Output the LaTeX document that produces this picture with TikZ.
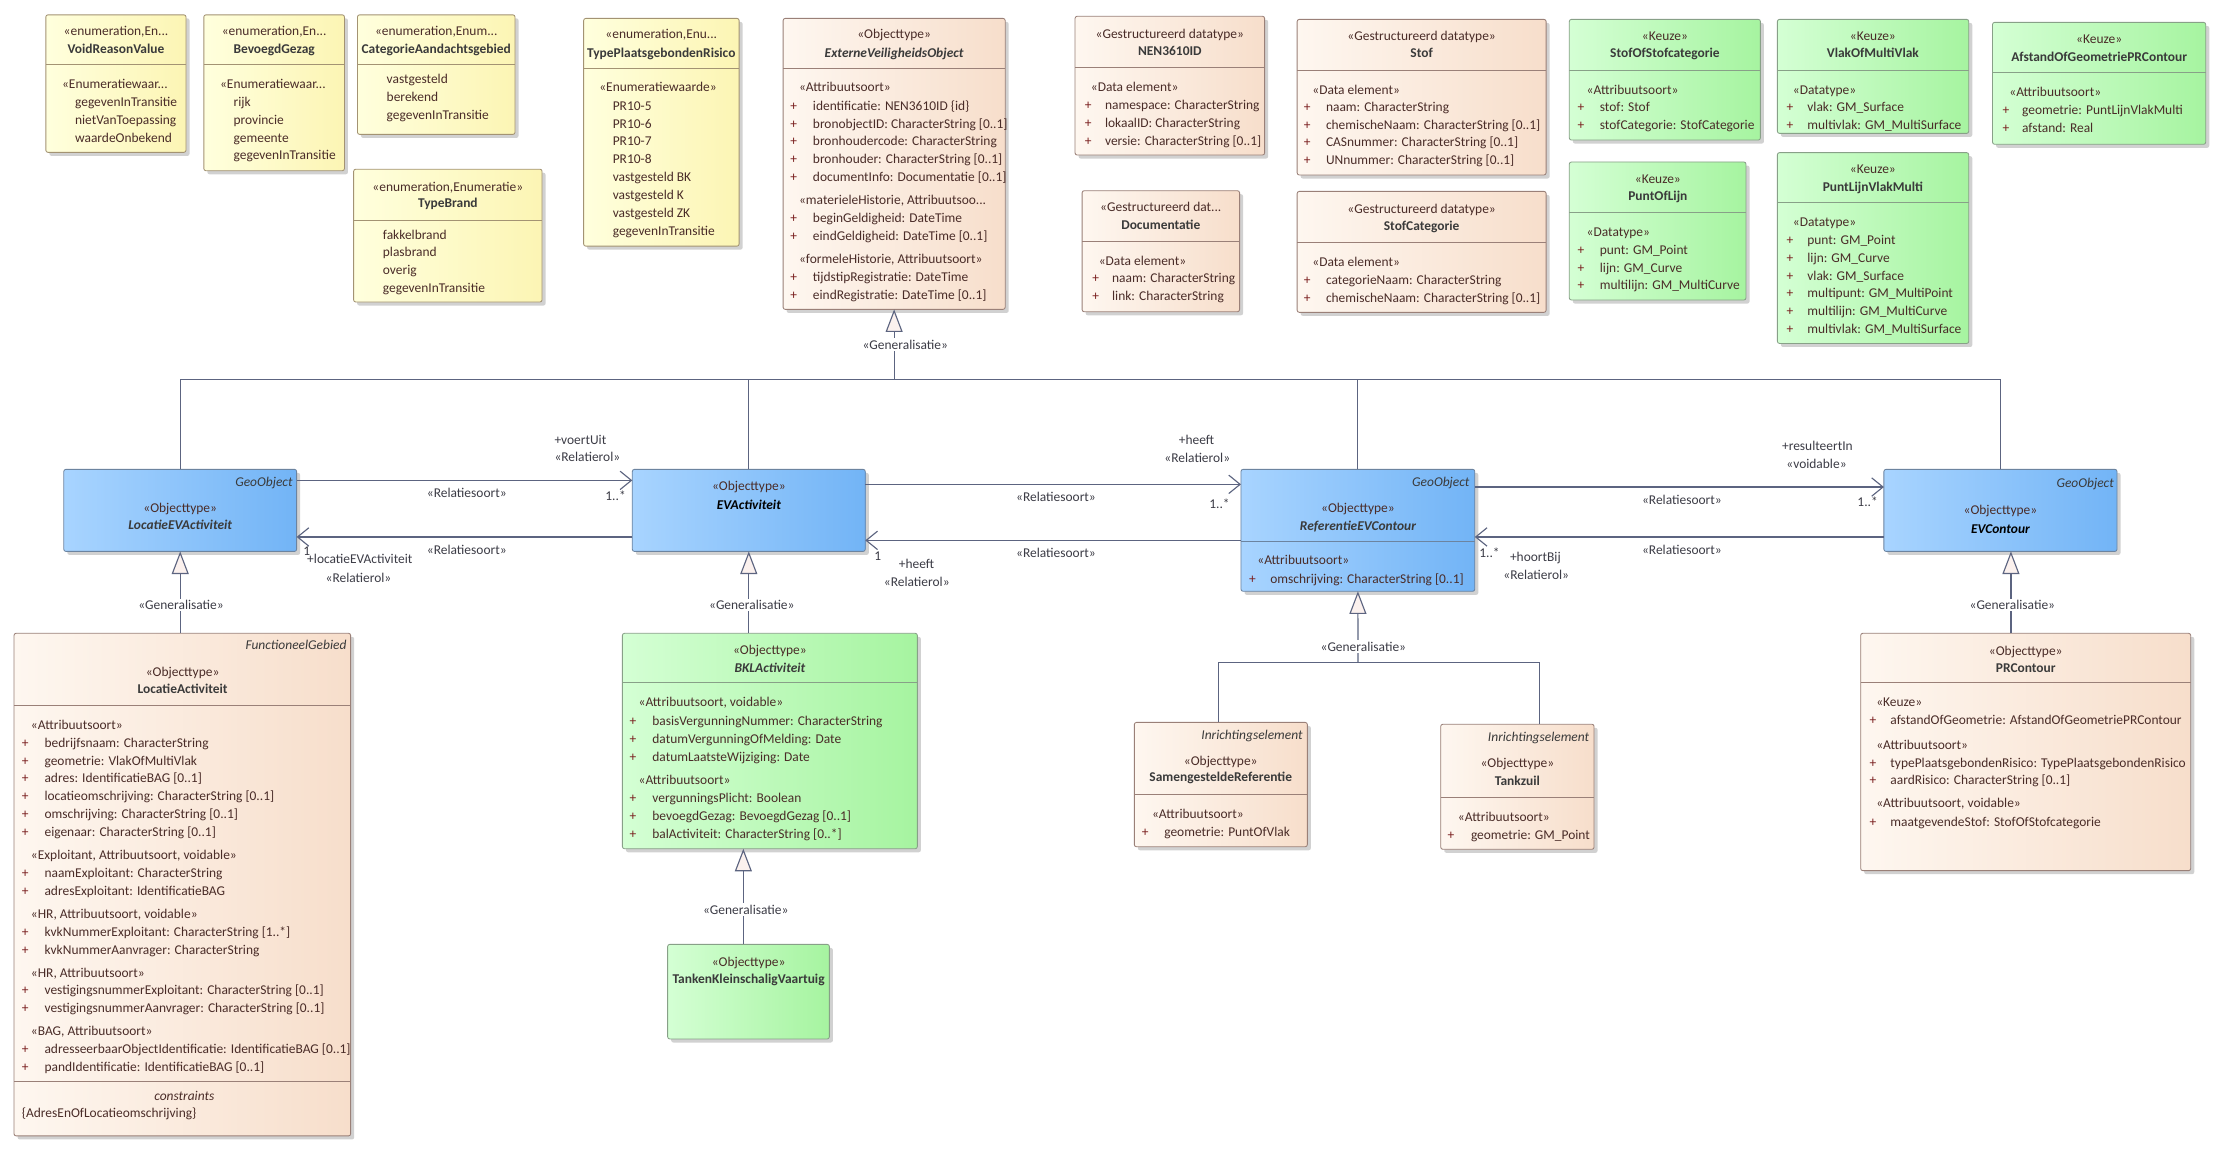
\documentclass[tikz,border=0pt]{standalone}
\usepackage{fontspec}
\setmainfont{Carlito}
\usetikzlibrary{arrows.meta,shadows,calc}
\newcommand{\fs}{\fontsize{9.5}{12.6}\selectfont}
\definecolor{lc}{HTML}{5C6480}
\definecolor{enumL}{HTML}{FFFFDD}
\definecolor{enumR}{HTML}{FCF5B4}
\definecolor{enumD}{HTML}{A39373}
\definecolor{peachL}{HTML}{FEF7F0}
\definecolor{peachR}{HTML}{F7DECB}
\definecolor{peachD}{HTML}{9A8078}
\definecolor{greenL}{HTML}{D4FFD4}
\definecolor{greenR}{HTML}{A6F4A0}
\definecolor{greenD}{HTML}{88A088}
\definecolor{blueL}{HTML}{A8D4FF}
\definecolor{blueR}{HTML}{72B4F6}
\definecolor{blueD}{HTML}{6C84A0}
\definecolor{txt}{HTML}{4A2C28}
\definecolor{plusc}{HTML}{7A1F1F}
\definecolor{namec}{HTML}{3A3A3A}
\definecolor{lbl}{HTML}{3C3C46}
\definecolor{genfill}{HTML}{FBF1EE}
\tikzset{
  box/.style={rectangle, rounded corners=1.5pt, inner sep=0pt, outer sep=0pt, line width=0.6pt,
    drop shadow={shadow xshift=2.5pt, shadow yshift=-2.5pt, fill=black, opacity=0.18}},
  enumbox/.style={box, draw=enumD, left color=enumL, right color=enumR},
  peachbox/.style={box, draw=peachD, left color=peachL, right color=peachR},
  greenbox/.style={box, draw=greenD, left color=greenL, right color=greenR},
  bluebox/.style={box, draw=blueD, left color=blueL, right color=blueR},
  stx/.style={anchor=base, inner sep=0pt, text=txt, font=\fs},
  nmx/.style={anchor=base, inner sep=0pt, text=namec, font=\fs\bfseries},
  nmix/.style={anchor=base, inner sep=0pt, text=namec, font=\fs\bfseries\itshape},
  hdx/.style={anchor=base west, inner sep=0pt, text=txt, font=\fs},
  itx/.style={anchor=base west, inner sep=0pt, text=txt, font=\fs},
  plx/.style={anchor=base west, inner sep=0pt, text=plusc, font=\fs},
  geox/.style={anchor=base east, inner sep=0pt, text=namec, font=\fs\itshape},
  lblx/.style={anchor=base, inner sep=0pt, text=lbl, font=\fs},
  lblw/.style={lblx, anchor=base west},
  genl/.style={lblx, fill=white, inner sep=1.2pt},
  conn/.style={draw=lc, line width=0.8pt},
  gen/.style={conn, -{Triangle[length=16pt, width=12pt, fill=genfill]}},
  assoc/.style={conn, -{Straight Barb[length=8pt, width=13pt]}},
}
\newcommand{\umlbox}[6]{\node[#2, anchor=north west, minimum width={(#5-#3)*1pt}, minimum height={(#6-#4)*1pt}] (#1) at (#3,#4) {};}
\newcommand{\divl}[4]{\draw[draw=#4, line width=0.6pt] (#1,#3) -- (#2,#3);}
\newcommand{\attrs}[5]{%
  \foreach \itm [count=\i] in {#5}{%
    \node[plx] (#1p\i) at (#2,{#4+(\i-1)*12.6}) {+};
    \node[itx] (#1\i) at (#3,{#4+(\i-1)*12.6}) {\itm};
  }}
\newcommand{\evals}[4]{%
  \foreach \itm [count=\i] in {#4}{%
    \node[itx] (#1\i) at (#2,{#3+(\i-1)*12.6}) {\itm};
  }}
\begin{document}
\begin{tikzpicture}[x=1pt,y=-1pt]
\fill[white] (0,0) rectangle (1568,814);
\useasboundingbox (0,0) rectangle (1568,814);

% ---------- enumerations ----------
\umlbox{void}{enumbox}{32.4}{10.5}{131.5}{107.7}
\divl{32.4}{131.5}{45.2}{enumD}
\node[stx] (void-s) at (82,25.2) {«enumeration,En...};
\node[nmx] (void-n) at (82,37.5) {VoidReasonValue};
\node[hdx] (void-h) at (43.7,62.7) {«Enumeratiewaar...};
\evals{void-i}{52.9}{75.2}{{gegevenInTransitie},{nietVanToepassing},{waardeOnbekend}}

\umlbox{bev}{enumbox}{144.1}{10.5}{243.5}{120.7}
\divl{144.1}{243.5}{45.2}{enumD}
\node[stx] (bev-s) at (193.8,25.2) {«enumeration,En...};
\node[nmx] (bev-n) at (193.8,37.5) {BevoegdGezag};
\node[hdx] (bev-h) at (155.4,62.7) {«Enumeratiewaar...};
\evals{bev-i}{165}{75.2}{{rijk},{provincie},{gemeente},{gegevenInTransitie}}

\umlbox{cat}{enumbox}{252.7}{10.5}{364.1}{95}
\divl{252.7}{364.1}{45.5}{enumD}
\node[stx] (cat-s) at (308.4,25.2) {«enumeration,Enum...};
\node[nmx] (cat-n) at (308.4,37.5) {CategorieAandachtsgebied};
\evals{cat-i}{273.2}{59}{{vastgesteld},{berekend},{gegevenInTransitie}}

\umlbox{brand}{enumbox}{250}{119.6}{383.2}{213.5}
\divl{250}{383.2}{155.8}{enumD}
\node[stx] (brand-s) at (316.6,135.5) {«enumeration,Enumeratie»};
\node[nmx] (brand-n) at (316.6,147) {TypeBrand};
\evals{brand-i}{270.5}{169}{{fakkelbrand},{plasbrand},{overig},{gegevenInTransitie}}

\umlbox{tpr}{enumbox}{412.6}{13}{522.5}{174}
\divl{412.6}{522.5}{48.5}{enumD}
\node[stx] (tpr-s) at (467.5,27.5) {«enumeration,Enu...};
\node[nmx] (tpr-n) at (467.5,40.5) {TypePlaatsgebondenRisico};
\node[hdx] (tpr-h) at (423.5,65) {«Enumeratiewaarde»};
\evals{tpr-i}{433}{78}{{PR10-5},{PR10-6},{PR10-7},{PR10-8},{vastgesteld BK},{vastgesteld K},{vastgesteld ZK},{gegevenInTransitie}}

% ---------- ExterneVeiligheidsObject ----------
\umlbox{evo}{peachbox}{553.6}{13}{710.6}{218.7}
\divl{553.6}{710.6}{48.3}{peachD}
\node[stx] (evo-s) at (632.1,27.5) {«Objecttype»};
\node[nmix] (evo-n) at (632.1,40.5) {ExterneVeiligheidsObject};
\node[hdx] (evo-h1) at (564.7,65) {«Attribuutsoort»};
\attrs{evo-a}{558.5}{574.5}{78}{{identificatie: NEN3610ID \{id\}},{bronobjectID: CharacterString [0..1]},{bronhoudercode: CharacterString},{bronhouder: CharacterString [0..1]},{documentInfo: Documentatie [0..1]}}
\node[hdx] (evo-h2) at (564.7,144.7) {«materieleHistorie, Attribuutsoo...};
\attrs{evo-b}{558.5}{574.5}{157.2}{{beginGeldigheid: DateTime},{eindGeldigheid: DateTime [0..1]}}
\node[hdx] (evo-h3) at (564.7,186.3) {«formeleHistorie, Attribuutsoort»};
\attrs{evo-c}{558.5}{574.5}{199}{{tijdstipRegistratie: DateTime},{eindRegistratie: DateTime [0..1]}}

% ---------- datatypes ----------
\umlbox{nen}{peachbox}{760}{11.5}{894}{109.6}
\divl{760}{894}{47.6}{peachD}
\node[stx] (nen-s) at (827,27) {«Gestructureerd datatype»};
\node[nmx] (nen-n) at (827,39.5) {NEN3610ID};
\node[hdx] (nen-h) at (771,64.6) {«Data element»};
\attrs{nen-a}{766.8}{781}{77.6}{{namespace: CharacterString},{lokaalID: CharacterString},{versie: CharacterString [0..1]}}

\umlbox{doc}{peachbox}{765}{134.8}{876.3}{220.4}
\divl{765}{876.3}{170.6}{peachD}
\node[stx] (doc-s) at (820.6,149.5) {«Gestructureerd dat...};
\node[nmx] (doc-n) at (820.6,162) {Documentatie};
\node[hdx] (doc-h) at (776.6,187.4) {«Data element»};
\attrs{doc-a}{772}{786}{199.6}{{naam: CharacterString},{link: CharacterString}}

\umlbox{stof}{peachbox}{917}{13.7}{1093}{123.7}
\divl{917}{1093}{49.5}{peachD}
\node[stx] (stof-s) at (1005,28.3) {«Gestructureerd datatype»};
\node[nmx] (stof-n) at (1005,41) {Stof};
\node[hdx] (stof-h) at (927.6,66.5) {«Data element»};
\attrs{stof-a}{921.6}{937.2}{78.7}{{naam: CharacterString},{chemischeNaam: CharacterString [0..1]},{CASnummer: CharacterString [0..1]},{UNnummer: CharacterString [0..1]}}

\umlbox{stofcat}{peachbox}{917}{135.3}{1093}{220.8}
\divl{917}{1093}{171.3}{peachD}
\node[stx] (stofcat-s) at (1005,151) {«Gestructureerd datatype»};
\node[nmx] (stofcat-n) at (1005,163) {StofCategorie};
\node[hdx] (stofcat-h) at (927.6,188.3) {«Data element»};
\attrs{stofcat-a}{921.6}{937.2}{201.3}{{categorieNaam: CharacterString},{chemischeNaam: CharacterString [0..1]}}

% ---------- keuze ----------
\umlbox{sosc}{greenbox}{1109.4}{13.7}{1244.5}{99}
\divl{1109.4}{1244.5}{49.5}{greenD}
\node[stx] (sosc-s) at (1177,28.3) {«Keuze»};
\node[nmx] (sosc-n) at (1177,41) {StofOfStofcategorie};
\node[hdx] (sosc-h) at (1121.5,66.5) {«Attribuutsoort»};
\attrs{sosc-a}{1115}{1130.8}{78.7}{{stof: Stof},{stofCategorie: StofCategorie}}

\umlbox{vomv}{greenbox}{1256.5}{13.7}{1391.8}{94.3}
\divl{1256.5}{1391.8}{49.5}{greenD}
\node[stx] (vomv-s) at (1324,28.3) {«Keuze»};
\node[nmx] (vomv-n) at (1324,41) {VlakOfMultiVlak};
\node[hdx] (vomv-h) at (1267.3,66.5) {«Datatype»};
\attrs{vomv-a}{1262.8}{1277.5}{78.7}{{vlak: GM\_Surface},{multivlak: GM\_MultiSurface}}

\umlbox{aog}{greenbox}{1408.6}{15.8}{1559.3}{102}
\divl{1408.6}{1559.3}{50.9}{greenD}
\node[stx] (aog-s) at (1484,30.6) {«Keuze»};
\node[nmx] (aog-n) at (1484,43.4) {AfstandOfGeometriePRContour};
\node[hdx] (aog-h) at (1420.3,67.9) {«Attribuutsoort»};
\attrs{aog-a}{1415.5}{1429.3}{80.8}{{geometrie: PuntLijnVlakMulti},{afstand: Real}}

\umlbox{pol}{greenbox}{1109.4}{114.5}{1234.3}{212.1}
\divl{1109.4}{1234.3}{149.9}{greenD}
\node[stx] (pol-s) at (1172,129.6) {«Keuze»};
\node[nmx] (pol-n) at (1172,141.7) {PuntOfLijn};
\node[hdx] (pol-h) at (1121.5,166.9) {«Datatype»};
\attrs{pol-a}{1115}{1130.8}{179.8}{{punt: GM\_Point},{lijn: GM\_Curve},{multilijn: GM\_MultiCurve}}

\umlbox{plvm}{greenbox}{1256.5}{107.9}{1391.8}{242.8}
\divl{1256.5}{1391.8}{143}{greenD}
\node[stx] (plvm-s) at (1324,122.6) {«Keuze»};
\node[nmx] (plvm-n) at (1324,135.3) {PuntLijnVlakMulti};
\node[hdx] (plvm-h) at (1267.3,159.8) {«Datatype»};
\attrs{plvm-a}{1262.8}{1277.5}{172.8}{{punt: GM\_Point},{lijn: GM\_Curve},{vlak: GM\_Surface},{multipunt: GM\_MultiPoint},{multilijn: GM\_MultiCurve},{multivlak: GM\_MultiSurface}}

% ---------- middle row ----------
\umlbox{locev}{bluebox}{45.1}{331.8}{209.7}{389.8}
\node[geox] (locev-g) at (207,344) {GeoObject};
\node[stx] (locev-s) at (127.4,362) {«Objecttype»};
\node[nmix] (locev-n) at (127.4,374.5) {LocatieEVActiviteit};

\umlbox{evact}{bluebox}{447}{331.8}{611.7}{389.8}
\node[stx] (evact-s) at (529.4,346.5) {«Objecttype»};
\node[nmix, text=black] (evact-n) at (529.4,360.3) {EVActiviteit};

\umlbox{refev}{bluebox}{877.3}{331.8}{1042.6}{418}
\divl{877.3}{1042.6}{382.7}{blueD}
\node[geox] (refev-g) at (1039,344) {GeoObject};
\node[stx] (refev-s) at (960,362) {«Objecttype»};
\node[nmix] (refev-n) at (960,375) {ReferentieEVContour};
\node[hdx] (refev-h) at (888.7,399.4) {«Attribuutsoort»};
\attrs{refev-a}{882.8}{897.8}{412.4}{{omschrijving: CharacterString [0..1]}}

\umlbox{evcont}{bluebox}{1331.8}{331.8}{1496.6}{389.8}
\node[geox] (evcont-g) at (1494.5,344.6) {GeoObject};
\node[stx] (evcont-s) at (1414.2,363.4) {«Objecttype»};
\node[nmix, text=black] (evcont-n) at (1414.2,376.8) {EVContour};

% ---------- bottom row ----------
\umlbox{locact}{peachbox}{9.9}{447.7}{247.9}{803}
\divl{9.9}{247.9}{498.6}{peachD}
\divl{9.9}{247.9}{764.7}{peachD}
\node[geox] (locact-g) at (245.1,459.5) {FunctioneelGebied};
\node[stx] (locact-s) at (129.1,478) {«Objecttype»};
\node[nmx] (locact-n) at (129.1,490.6) {LocatieActiviteit};
\node[hdx] (locact-h1) at (21.7,515.6) {«Attribuutsoort»};
\attrs{locact-a}{15.3}{31.3}{528.3}{{bedrijfsnaam: CharacterString},{geometrie: VlakOfMultiVlak},{adres: IdentificatieBAG [0..1]},{locatieomschrijving: CharacterString [0..1]},{omschrijving: CharacterString [0..1]},{eigenaar: CharacterString [0..1]}}
\node[hdx] (locact-h2) at (21.7,607.3) {«Exploitant, Attribuutsoort, voidable»};
\attrs{locact-b}{15.3}{31.3}{620.3}{{naamExploitant: CharacterString},{adresExploitant: IdentificatieBAG}}
\node[hdx] (locact-h3) at (21.7,649) {«HR, Attribuutsoort, voidable»};
\attrs{locact-c}{15.3}{31.3}{662}{{kvkNummerExploitant: CharacterString [1..*]},{kvkNummerAanvrager: CharacterString}}
\node[hdx] (locact-h4) at (21.7,690.7) {«HR, Attribuutsoort»};
\attrs{locact-d}{15.3}{31.3}{703}{{vestigingsnummerExploitant: CharacterString [0..1]},{vestigingsnummerAanvrager: CharacterString [0..1]}}
\node[hdx] (locact-h5) at (21.7,731.7) {«BAG, Attribuutsoort»};
\attrs{locact-e}{15.3}{31.3}{744.7}{{adresseerbaarObjectIdentificatie: IdentificatieBAG [0..1]},{pandIdentificatie: IdentificatieBAG [0..1]}}
\node[stx, font=\fs\itshape] (locact-c1) at (130.3,778) {constraints};
\node[itx] (locact-c2) at (15.3,789.7) {\{AdresEnOfLocatieomschrijving\}};

\umlbox{bkl}{greenbox}{440}{447.7}{648.5}{600}
\divl{440}{648.5}{482.6}{greenD}
\node[stx] (bkl-s) at (544.3,462.8) {«Objecttype»};
\node[nmix] (bkl-n) at (544.3,475.1) {BKLActiviteit};
\node[hdx] (bkl-h1) at (451.3,499.6) {«Attribuutsoort, voidable»};
\attrs{bkl-a}{444.9}{461}{512.8}{{basisVergunningNummer: CharacterString},{datumVergunningOfMelding: Date},{datumLaatsteWijziging: Date}}
\node[hdx] (bkl-h2) at (451.3,554.7) {«Attribuutsoort»};
\attrs{bkl-b}{444.9}{461}{567.5}{{vergunningsPlicht: Boolean},{bevoegdGezag: BevoegdGezag [0..1]},{balActiviteit: CharacterString [0..*]}}

\umlbox{tanken}{greenbox}{472}{667.6}{586.3}{734.5}
\node[stx] (tanken-s) at (529.2,683.2) {«Objecttype»};
\node[nmx] (tanken-n) at (529.2,695.4) {TankenKleinschaligVaartuig};

\umlbox{samen}{peachbox}{801.9}{510.7}{924.2}{598.6}
\divl{801.9}{924.2}{561.3}{peachD}
\node[geox] (samen-g) at (921,522.5) {Inrichtingselement};
\node[stx] (samen-s) at (863,541.3) {«Objecttype»};
\node[nmx] (samen-n) at (863,552.6) {SamengesteldeReferentie};
\node[hdx] (samen-h) at (814.2,578.3) {«Attribuutsoort»};
\attrs{samen-a}{807.1}{822.9}{591}{{geometrie: PuntOfVlak}}

\umlbox{tankzuil}{peachbox}{1018.5}{512}{1126.9}{600.4}
\divl{1018.5}{1126.9}{563.7}{peachD}
\node[geox] (tankzuil-g) at (1123.6,524) {Inrichtingselement};
\node[stx] (tankzuil-s) at (1072.7,542.5) {«Objecttype»};
\node[nmx] (tankzuil-n) at (1072.7,555.2) {Tankzuil};
\node[hdx] (tankzuil-h) at (1030.5,580.7) {«Attribuutsoort»};
\attrs{tankzuil-a}{1023.2}{1039.7}{593.6}{{geometrie: GM\_Point}}

\umlbox{prc}{peachbox}{1315.4}{447.7}{1548.7}{615.5}
\divl{1315.4}{1548.7}{482.6}{peachD}
\node[stx] (prc-s) at (1432.1,463.3) {«Objecttype»};
\node[nmx] (prc-n) at (1432.1,475.3) {PRContour};
\node[hdx] (prc-h1) at (1326.2,499.8) {«Keuze»};
\attrs{prc-a}{1321.5}{1336.2}{512.3}{{afstandOfGeometrie: AfstandOfGeometriePRContour}}
\node[hdx] (prc-h2) at (1326.2,529.5) {«Attribuutsoort»};
\attrs{prc-b}{1321.5}{1336.2}{542.3}{{typePlaatsgebondenRisico: TypePlaatsgebondenRisico},{aardRisico: CharacterString [0..1]}}
\node[hdx] (prc-h3) at (1326.2,571) {«Attribuutsoort, voidable»};
\attrs{prc-c}{1321.5}{1336.2}{584.2}{{maatgevendeStof: StofOfStofcategorie}}

% ---------- generalisations ----------
\coordinate (gj) at (632.1,268);
\draw[conn] (locev.north) |- (gj);
\draw[conn] (evcont.north) |- (gj);
\draw[conn] (evact.north) -- (evact.north |- gj);
\draw[conn] (refev.north) -- (refev.north |- gj);
\draw[gen] (gj) -- (evo.south);
\node[genl] (g0) at (640,247) {«Generalisatie»};

\draw[gen] (locev.south |- locact.north) -- (locev.south);
\node[genl] (g1) at (128,431) {«Generalisatie»};
\draw[gen] (evact.south |- bkl.north) -- (evact.south);
\node[genl] (g2) at (531.5,431) {«Generalisatie»};
\coordinate (tkx) at (525.5,0);
\draw[gen] (tanken.north -| tkx) -- (bkl.south -| tkx);
\node[genl] (g3) at (527.2,646.2) {«Generalisatie»};
\coordinate (gj2) at (960,468.5);
\coordinate (sj) at (861.3,468.5);
\coordinate (tj) at (1088.2,468.5);
\draw[conn] (samen.north -| sj) -- (sj) -- (tj) -- (tankzuil.north -| tj);
\draw[gen] (gj2) -- (refev.south);
\node[genl] (g4) at (963.8,460.5) {«Generalisatie»};
\coordinate (px) at (1421.6,0);
\draw[gen] (prc.north -| px) -- (evcont.south -| px);
\node[genl] (g5) at (1422.6,431) {«Generalisatie»};

% ---------- associations ----------
\draw[assoc] ($(locev.north east)+(0,7.8)$) -- ($(evact.north west)+(0,7.8)$);
\node[lblw] (a1r) at (391.8,314) {+voertUit};
\node[lblw] (a1s) at (391.8,326) {«Relatierol»};
\node[lblx] (a1l) at (330,352) {«Relatiesoort»};
\node[lblw] (a1m) at (427.8,353.5) {1..*};

\draw[assoc] ($(evact.north west)+(0,47.8)$) -- ($(locev.north east)+(0,47.8)$);
\node[lblx] (a2l) at (330,392) {«Relatiesoort»};
\node[lblw] (a2m) at (214.2,393) {1};
\node[lblw] (a2r) at (217,398.7) {+locatieEVActiviteit};
\node[lblw] (a2s) at (230,411.7) {«Relatierol»};

\draw[assoc] ($(evact.north east)+(0,10.6)$) -- ($(refev.north west)+(0,10.6)$);
\node[lblx] (a3l) at (746.5,354.4) {«Relatiesoort»};
\node[lblw] (a3r) at (833.2,314.3) {+heeft};
\node[lblw] (a3s) at (823,327.3) {«Relatierol»};
\node[lblw] (a3m) at (854.7,359.6) {1..*};

\draw[assoc] ($(refev.north west)+(0,50.2)$) -- ($(evact.north east)+(0,50.2)$);
\node[lblx] (a4l) at (746.5,393.8) {«Relatiesoort»};
\node[lblw] (a4m) at (618,396) {1};
\node[lblw] (a4r) at (635.3,401.8) {+heeft};
\node[lblw] (a4s) at (624.7,414.5) {«Relatierol»};

\draw[assoc] ($(refev.north east)+(0,12.5)$) -- ($(evcont.north west)+(0,12.5)$);
\node[lblx] (a5l) at (1189,356.8) {«Relatiesoort»};
\node[lblw] (a5r) at (1259.6,318.6) {+resulteertIn};
\node[lblw] (a5s) at (1262.7,331) {«voidable»};
\node[lblw] (a5m) at (1312.9,358.4) {1..*};

\draw[assoc] ($(evcont.north west)+(0,47.8)$) -- ($(refev.north east)+(0,47.8)$);
\node[lblx] (a6l) at (1189,392) {«Relatiesoort»};
\node[lblw] (a6m) at (1045.6,393.8) {1..*};
\node[lblw] (a6r) at (1067.3,397) {+hoortBij};
\node[lblw] (a6s) at (1062.6,409.6) {«Relatierol»};
\end{tikzpicture}
\end{document}
